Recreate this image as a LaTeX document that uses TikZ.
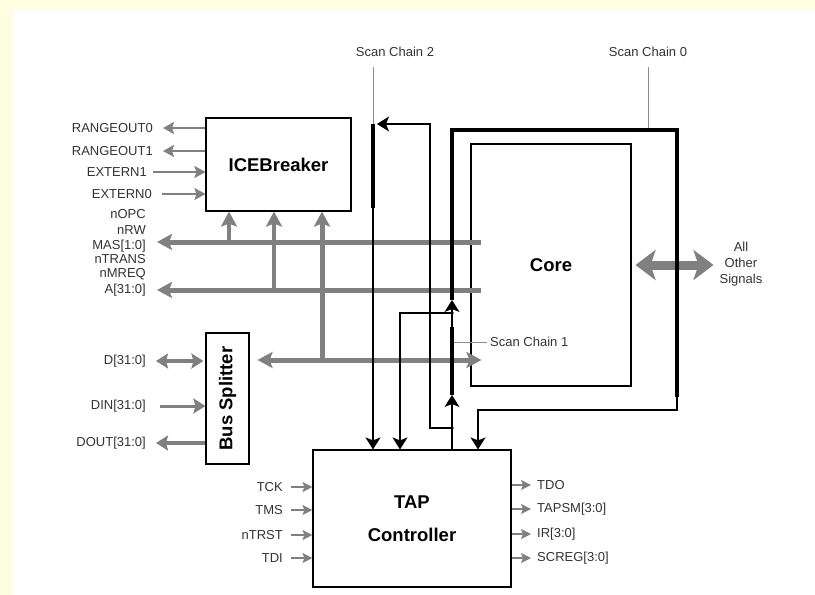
\documentclass[tikz,border=0pt]{standalone}
\usepackage{fontspec}
\setmainfont{Liberation Sans}
\usetikzlibrary{arrows.meta}
\definecolor{pageyel}{RGB}{255,255,224}
\definecolor{busgrey}{RGB}{128,128,128}

\begin{document}
\begin{tikzpicture}[x=1pt,y=-1pt,line join=miter,
  blk/.style={draw=black,line width=1.1pt,fill=white,inner sep=0pt},
  lbl/.style={font=\fontsize{13}{15}\selectfont,text=black!80,inner sep=0pt},
  ttl/.style={font=\fontsize{18.5}{22}\selectfont\bfseries},
  bus/.style={busgrey,line width=5pt},
  bighead/.style={-{Stealth[length=15pt,width=16pt,inset=3pt]}},
  bothhead/.style={{Stealth[length=15pt,width=16pt,inset=3pt]}-{Stealth[length=15pt,width=16pt,inset=3pt]}},
  sigline/.style={busgrey,line width=2pt,-{Stealth[length=11pt,width=12pt,inset=2pt]}},
  splitline/.style={busgrey,line width=4pt},
  splithead/.style={-{Stealth[length=12pt,width=15pt,inset=2pt]}},
  pinline/.style={busgrey,line width=1.2pt,-{Stealth[length=10pt,width=10pt,inset=2pt]}},
  wire/.style={black,line width=1.2pt},
  blkhead/.style={-{Stealth[length=12pt,width=15pt,inset=3pt]}},
  scanbar/.style={black,line width=4.5pt},
  lead/.style={black!45,line width=0.8pt}]
\useasboundingbox (0,0) rectangle (815,595);
\fill[pageyel] (0,0) rectangle (815,595);
\fill[white] (13,9) rectangle (815,595);
\node[blk,ttl,minimum width=145pt,minimum height=93pt] (ice) at (278.5,164.5) {ICEBreaker};
\node[blk,ttl,minimum width=160pt,minimum height=242pt] (core) at (551,265) {Core};
\node[blk,ttl,align=center,minimum width=198pt,minimum height=137pt] (tap) at (412,518.5) {TAP\\[11pt]Controller};
\node[blk,minimum width=43pt,minimum height=131pt] (split) at (227.5,398.5) {};
\node[ttl,rotate=90] (splittxt) at (split.center) {Bus Splitter};
\node[lbl,anchor=east] (rng0) at (153,128) {RANGEOUT0};
\node[lbl,anchor=east] (rng1) at (153,151) {RANGEOUT1};
\node[lbl,anchor=east] (ext1) at (147,172) {EXTERN1};
\node[lbl,anchor=east] (ext0) at (152,194) {EXTERN0};
\draw[sigline] (ice.west |- rng0) -- ([xshift=10pt]rng0.east);
\draw[sigline] (ice.west |- rng1) -- ([xshift=10pt]rng1.east);
\draw[sigline] ([xshift=6pt]ext1.east) -- (ice.west |- ext1);
\draw[sigline] ([xshift=10pt]ext0.east) -- (ice.west |- ext0);
\node[lbl,anchor=east] (nopc) at (146,214) {nOPC};
\node[lbl,anchor=east] (nrw) at (146,230) {nRW};
\node[lbl,anchor=east] (mas) at (146,246) {MAS[1:0]};
\node[lbl,anchor=east] (ntrans) at (146,259) {nTRANS};
\node[lbl,anchor=east] (nmreq) at (146,274) {nMREQ};
\node[lbl,anchor=east] (addr) at (146,290) {A[31:0]};
\coordinate (masbus) at (481,242);
\coordinate (abus) at (481,290);
\coordinate (tapa) at (229,242);
\coordinate (tapb) at (274,290);
\coordinate (tapc) at (322,360);
\draw[bus,bighead] (masbus) -- ([xshift=11pt]mas.east |- masbus);
\draw[bus,bighead] (abus) -- ([xshift=11pt]addr.east |- abus);
\draw[bus,line width=4pt,bighead] (tapa) -- (tapa |- ice.south);
\draw[bus,line width=4pt,bighead] (tapb) -- (tapb |- ice.south);
\draw[bus,bighead] (tapc) -- (tapc |- ice.south);
\draw[bus,bothhead] ([xshift=8pt]split.east |- tapc) -- ([xshift=11pt]core.west |- tapc);
\node[lbl,align=center,font=\fontsize{13}{16}\selectfont] (other) at (741,264) {All\\Other\\Signals};
\draw[busgrey,line width=9pt,{Stealth[length=20pt,width=30pt,inset=5pt]}-{Stealth[length=20pt,width=30pt,inset=5pt]}] ([xshift=4pt]core.east) -- ([xshift=-6pt]other.west |- core.east);
\node[lbl,anchor=east] (data) at (146,361) {D[31:0]};
\node[lbl,anchor=east] (din) at (146,406) {DIN[31:0]};
\node[lbl,anchor=east] (dout) at (146,443) {DOUT[31:0]};
\draw[splitline,{Stealth[length=12pt,width=15pt,inset=2pt]}-{Stealth[length=12pt,width=15pt,inset=2pt]}] ([xshift=10pt]data.east) -- ([xshift=-2pt]split.west |- data);
\draw[splitline,splithead,line width=3pt] ([xshift=14pt]din.east) -- (split.west |- din);
\draw[splitline,splithead] (split.west |- dout) -- ([xshift=10pt]dout.east);
\node[lbl,anchor=east] (tck) at (283,487) {TCK};
\node[lbl,anchor=east] (tms) at (283,510) {TMS};
\node[lbl,anchor=east] (ntrst) at (283,535) {nTRST};
\node[lbl,anchor=east] (tdi) at (283,558) {TDI};
\draw[pinline] ([xshift=8pt]tck.east) -- (tap.west |- tck);
\draw[pinline] ([xshift=8pt]tms.east) -- (tap.west |- tms);
\draw[pinline] ([xshift=8pt]ntrst.east) -- (tap.west |- ntrst);
\draw[pinline] ([xshift=8pt]tdi.east) -- (tap.west |- tdi);
\node[lbl,anchor=west] (tdo) at (537,485) {TDO};
\node[lbl,anchor=west] (tapsm) at (537,509) {TAPSM[3:0]};
\node[lbl,anchor=west] (ir) at (537,534) {IR[3:0]};
\node[lbl,anchor=west] (screg) at (537,558) {SCREG[3:0]};
\draw[pinline] (tap.east |- tdo) -- ([xshift=-6pt]tdo.west);
\draw[pinline] (tap.east |- tapsm) -- ([xshift=-6pt]tapsm.west);
\draw[pinline] (tap.east |- ir) -- ([xshift=-6pt]ir.west);
\draw[pinline] (tap.east |- screg) -- ([xshift=-6pt]screg.west);
\node[lbl,inner ysep=10pt] (sc2) at (395,52) {Scan Chain 2};
\node[lbl,inner ysep=10pt] (sc0) at (648,52) {Scan Chain 0};
\node[lbl,inner xsep=3pt,anchor=west] (sc1) at (487,342) {Scan Chain 1};
\coordinate (c2top) at (373,124);
\coordinate (c2bot) at (373,208);
\coordinate (c2in) at (430,124);
\coordinate (c1top) at (452,327);
\coordinate (c1bot) at (452,395);
\coordinate (c0bot) at (452,300);
\coordinate (c0top) at (677,130);
\coordinate (c0end) at (677,397);
\coordinate (c0out) at (478,410);
\coordinate (j1) at (452,313);
\coordinate (j2) at (452,428);
\draw[lead] (sc2.south -| c2top) -- (c2top);
\draw[lead] (sc0.south) -- (sc0.south |- c0top);
\draw[lead] (sc1.west) -- (sc1.west -| c1top);
\draw[scanbar] (c2top) -- (c2bot);
\draw[wire,blkhead] (c2bot) -- (c2bot |- tap.north);
\draw[wire,blkhead] (j2) -| (c2in) -- ([xshift=4pt]c2top);
\draw[wire,blkhead] (tap.north -| c1bot) -- (c1bot);
\draw[scanbar] (c1bot) -- (c1top);
\draw[wire,blkhead] (c1top) -- (c0bot);
\draw[wire,blkhead] (j1) -| ([xshift=-12pt]tap.north);
\draw[scanbar] (c0bot) |- (c0top) -- (c0end);
\draw[wire,blkhead] (c0end) |- (c0out) -- (c0out |- tap.north);
\fill (j1) circle (1.8pt);
\fill (j2) circle (1.8pt);
\end{tikzpicture}
\end{document}
